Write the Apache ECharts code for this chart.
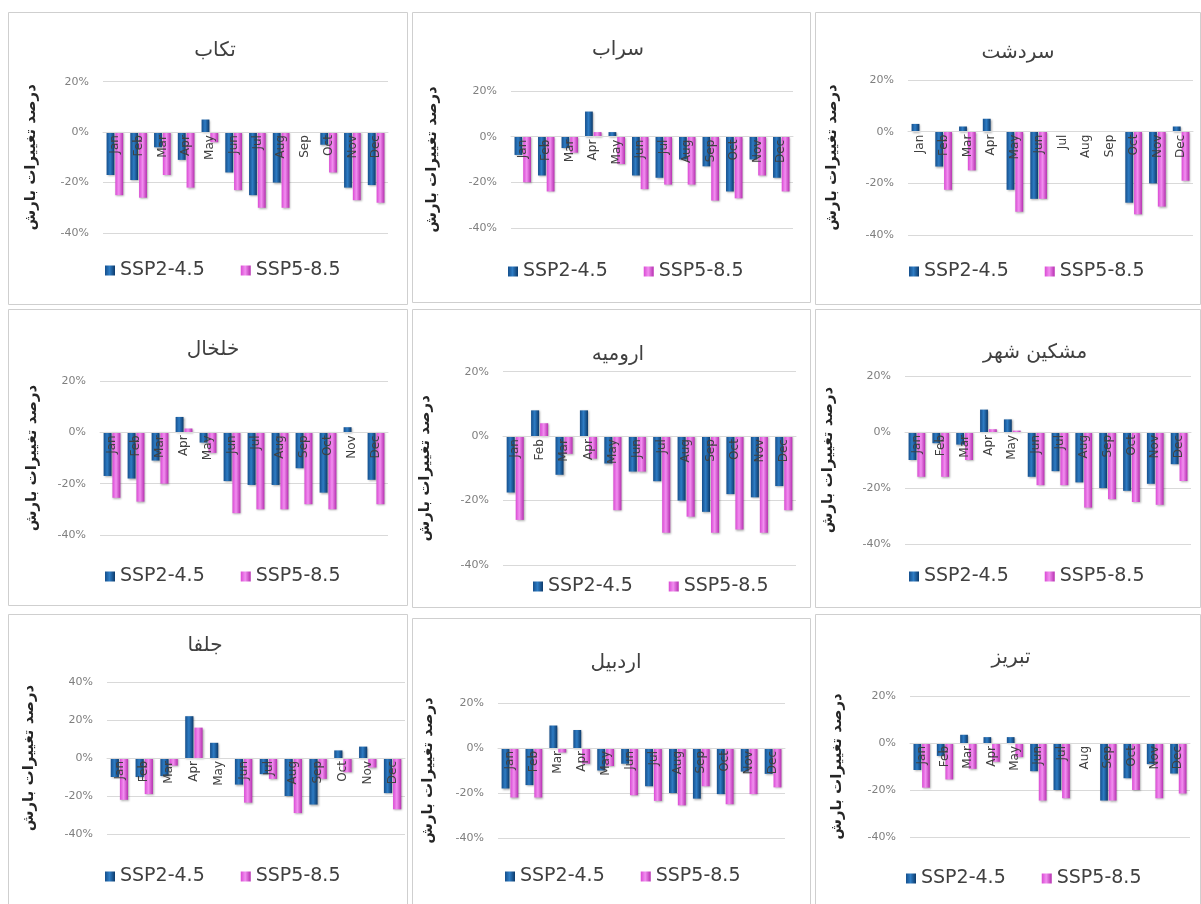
<!DOCTYPE html>
<html>
<head>
<meta charset="utf-8">
<script src="https://cdn.jsdelivr.net/npm/echarts@6/dist/echarts.min.js"></script>
<style>html,body{margin:0;padding:0;background:#fff;}#c{width:1201px;height:904px;}</style>
</head>
<body>
<div id="c"></div>
<script>
// ---------- DATA ----------
const months = ['Jan','Feb','Mar','Apr','May','Jun','Jul','Aug','Sep','Oct','Nov','Dec'];
const seriesNames = ['SSP2-4.5','SSP5-8.5'];
const yAxisName = 'درصد تغییرات بارش';
const stations = ['تکاب','سراب','سردشت','خلخال','ارومیه','مشکین شهر','جلفا','اردبیل','تبریز'];

const takab245    = [-17, -19, -6, -11, 5, -16, -25, -20, 0, -5, -22, -21];
const takab585    = [-25, -26, -17, -22, -4, -23, -30, -30, 0, -16, -27, -28];
const sarab245    = [-8, -17, -5, 11, 2, -17, -18, -10, -13, -24, -10, -18];
const sarab585    = [-20, -24, -7, 2, -12, -23, -21, -21, -28, -27, -17, -24];
const sardasht245 = [3, -13.5, 2, 5, -22.5, -26, 0, 0, 0, -27.5, -20, 2];
const sardasht585 = [0, -22.5, -15, 0, -31, -26, 0, 0, 0, -32, -29, -19];
const khalkhal245 = [-17, -18, -11, 6, -4, -19, -20.5, -20.5, -14, -23.5, 2, -18.5];
const khalkhal585 = [-25.5, -27, -20, 1.5, -8, -31.5, -30, -30, -28, -30, 0, -28];
const urmia245    = [-17.5, 8, -12, 8, -8.5, -11, -14, -20, -23.5, -18, -19, -15.5];
const urmia585    = [-26, 4, -5.5, -7, -23, -11, -30, -25, -30, -29, -30, -23];
const meshgin245  = [-10, -4, -4.5, 8, 4.5, -16, -14, -18, -20, -21, -18.5, -11.5];
const meshgin585  = [-16, -16, -10, 1, 0.5, -19, -19, -27, -24, -25, -26, -17.5];
const jolfa245    = [-10, -10, -9.5, 22, 8, -14, -8.5, -20, -24.5, 4, 6, -18.5];
const jolfa585    = [-22, -19, -4, 16, 0, -23.5, -11, -29, -11, -7.5, -5, -27];
const ardabil245  = [-18, -16.5, 10, 8, -10, -7, -17, -20, -22.5, -20.5, -10.5, -11.5];
const ardabil585  = [-22, -22, -2, -7, -8, -21, -23.5, -25.5, -17, -25, -20.5, -17.5];
const tabriz245   = [-11.5, -5.5, 3.5, 2.5, 2.5, -12, -20, 0, -24.5, -15, -9, -13];
const tabriz585   = [-19, -15.5, -11, -8, -6, -24.5, -23.5, 0, -24.5, -20, -23.5, -21.5];

const valuesA = [takab245, sarab245, sardasht245, khalkhal245, urmia245, meshgin245, jolfa245, ardabil245, tabriz245];
const valuesB = [takab585, sarab585, sardasht585, khalkhal585, urmia585, meshgin585, jolfa585, ardabil585, tabriz585];
const axisMin = -40;
const axisMax = [20, 20, 20, 20, 20, 20, 40, 20, 20];

// ---------- LAYOUT ----------
const layout = [
  {grid:[103,81.7,285,151.3], title:[210,48], legend:[100,267], gap:64, box:[8,12,399,292]},
  {grid:[511,91,282,137],     title:[613,47], legend:[503,268], gap:71, box:[412,12,398,290]},
  {grid:[908,80,285,155],     title:[1013,50], legend:[904,268], gap:68, box:[815,12,385,292]},
  {grid:[100,381,288,154],    title:[208,347], legend:[100,573], gap:60, box:[8,309,399,296]},
  {grid:[503,371.7,293,193.3],title:[613,352], legend:[528,583], gap:70, box:[412,309,398,298]},
  {grid:[905,376,286,168],    title:[1030,350], legend:[904,573], gap:69, box:[815,309,385,298]},
  {grid:[107,682,298,152],    title:[200,643], legend:[100,873], gap:70, box:[8,614,399,290]},
  {grid:[498,703,287,135],    title:[611,660], legend:[500,873], gap:62, box:[412,618,398,286]},
  {grid:[910,696,280,141],    title:[1006,655], legend:[901,875], gap:65, box:[815,614,385,290]}
];

const FONT = "'DejaVu Sans', sans-serif";
const blueGrad = {type:'linear',x:0,y:0,x2:1,y2:0,colorStops:[
  {offset:0,color:'#154f8c'},{offset:0.45,color:'#2e7cc4'},{offset:1,color:'#0c3a6b'}]};
const pinkGrad = {type:'linear',x:0,y:0,x2:1,y2:0,colorStops:[
  {offset:0,color:'#d94ad3'},{offset:0.45,color:'#f28ef0'},{offset:1,color:'#b62fb0'}]};

const grids=[], xAxes=[], yAxes=[], series=[], titles=[], legends=[], graphics=[];
layout.forEach((L,i)=>{
  const h = L.grid[3];
  // place the category axis on the zero line of the value axis
  const zeroOffset = -h * (0 - axisMin) / (axisMax[i] - axisMin);
  grids.push({left:L.grid[0], top:L.grid[1], width:L.grid[2], height:h});
  xAxes.push({type:'category', gridIndex:i, data:months, position:'bottom', offset:zeroOffset, z:10,
    axisTick:{show:false},
    axisLine:{onZero:false, lineStyle:{color:'#d9d9d9'}},
    axisLabel:{rotate:90, interval:0, fontSize:12, color:'#404040', margin:3, fontFamily:FONT}});
  yAxes.push({type:'value', gridIndex:i, min:axisMin, max:axisMax[i], interval:20,
    name:yAxisName, nameLocation:'middle', nameGap:L.gap,
    nameTextStyle:{fontSize:15, color:'#262626', fontWeight:'bold', fontFamily:FONT},
    axisLine:{show:false}, axisTick:{show:false},
    axisLabel:{formatter:'{value}%', fontSize:11, color:'#7f7f7f', margin:14, fontFamily:FONT},
    splitLine:{lineStyle:{color:'#d9d9d9'}}});
  series.push({type:'bar', name:seriesNames[0], xAxisIndex:i, yAxisIndex:i, data:valuesA[i],
    barWidth:'33%', barGap:'12%', z:3,
    itemStyle:{color:blueGrad, shadowBlur:2, shadowColor:'rgba(0,0,0,0.3)', shadowOffsetX:1, shadowOffsetY:1}});
  series.push({type:'bar', name:seriesNames[1], xAxisIndex:i, yAxisIndex:i, data:valuesB[i],
    barWidth:'33%', barGap:'12%', z:3,
    itemStyle:{color:pinkGrad, shadowBlur:2, shadowColor:'rgba(0,0,0,0.3)', shadowOffsetX:1, shadowOffsetY:1}});
  titles.push({text:stations[i], left:L.title[0], top:L.title[1]-12, textAlign:'center',
    textStyle:{fontSize:20, fontWeight:'normal', color:'#404040', fontFamily:FONT}});
  legends.push({data:seriesNames, left:L.legend[0], top:L.legend[1]-11, icon:'rect',
    itemWidth:10, itemHeight:10, itemGap:36,
    textStyle:{fontSize:19, color:'#404040', fontFamily:FONT}});
  graphics.push({type:'rect', silent:true, z:-10,
    shape:{x:L.box[0]+0.5, y:L.box[1]+0.5, width:L.box[2], height:L.box[3]},
    style:{fill:'#ffffff', stroke:'#cfcfcf', lineWidth:1}});
});

const chart = echarts.init(document.getElementById('c'), null, {renderer:'canvas'});
chart.setOption({
  animation:false,
  backgroundColor:'#ffffff',
  title:titles, legend:legends, grid:grids, xAxis:xAxes, yAxis:yAxes, series:series,
  graphic:{elements:graphics}
});
</script>
</body>
</html>
